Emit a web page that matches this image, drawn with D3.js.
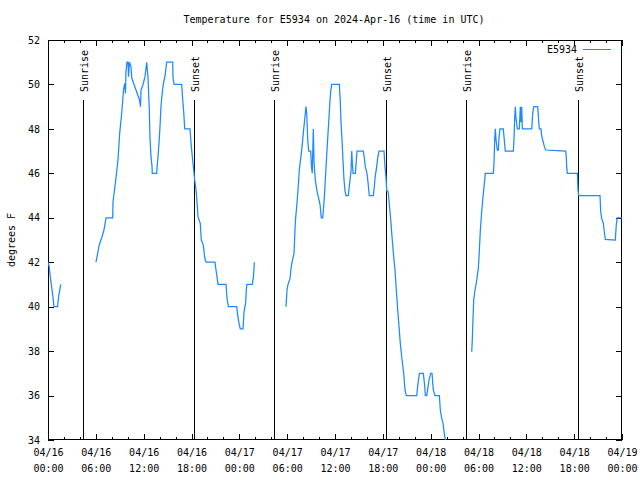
<!DOCTYPE html>
<html><head><meta charset="utf-8">
<script src="https://cdn.jsdelivr.net/npm/d3@7"></script>
<style>
html,body{margin:0;padding:0;background:#fff;}
text{font-family:"DejaVu Sans Mono",monospace;font-size:10px;fill:#000;}
</style></head>
<body><svg id="c" width="640" height="480"></svg>
<script>
// ---- data (hours after 2024-04-16 00:00 UTC, temperature °F; null = gap) ----
const title = "Temperature for E5934 on 2024-Apr-16 (time in UTC)";
const seriesName = "E5934";
const yLabel = "degrees F";
const hoursUTC = [
 0,0.15,0.3,0.45,0.6,0.75,1.2,1.35,1.6, 3.5,
 6.02,6.44,6.74,7.02,7.28,8.12,8.15,8.53,8.78,8.99,9.16,9.28,9.47,9.62,9.72,9.78,9.91,10.04,10.10,10.22,10.41,10.50,10.79,11.04,11.48,11.60,11.67,11.92,12.17,12.38,12.54,12.71,12.79,12.92,13.05,13.08,13.64,13.67,13.80,13.92,14.05,14.17,14.34,14.46,14.68,14.89,15.64,15.68,15.81,16.77,16.90,17.02,17.15,17.81,17.94,18.06,18.23,18.40,18.57,18.69,18.82,19.10,19.23,19.48,19.66,19.82,20.95,21.07,21.20,21.32,22.33,22.45,22.62,23.67,23.80,23.96,24.12,24.46,24.59,24.80,24.87,24.96,25.63,25.75,25.84,25.88, 27.5,
 29.85,29.98,30.11,30.36,30.48,30.61,30.86,31.02,31.23,31.36,31.52,31.74,31.90,32.02,32.15,32.36,32.45,32.58,32.70,32.95,33.05,33.15,33.28,33.37,33.53,33.74,33.87,34.12,34.28,34.46,34.58,34.71,34.83,34.96,35.09,35.21,35.34,35.46,35.59,36.54,36.67,36.75,36.88,37.00,37.13,37.26,37.38,37.67,37.76,37.88,38.01,38.10,38.17,38.26,38.55,38.76,39.55,39.68,39.80,40.01,40.14,40.30,40.81,40.93,41.06,41.23,41.36,41.52,42.15,42.27,42.40,42.49,42.65,42.77,42.99,43.15,43.36,43.53,43.69,43.87,44.03,44.19,44.41,44.62,44.78,44.95,46.25,46.41,46.58,47.08,47.26,47.33,47.51,47.67,47.79,48.01,48.17,48.33,48.54,49.09,49.21,49.39,49.55,49.71,49.93,50.05, 51.5,
 53.15,53.22,53.31,53.40,53.56,53.69,53.81,53.98,54.10,54.23,54.40,54.53,54.65,54.78,54.85,55.86,55.95,56.03,56.11,56.20,56.36,56.49,56.57,56.70,57.11,57.36,58.37,58.45,58.54,58.62,58.70,58.87,59.12,59.25,59.33,59.42,59.50,60.68,60.80,60.93,61.43,61.56,61.63,61.84,61.92,62.05,62.13,62.26,62.43,64.94,65.01,65.06,65.14,66.40,66.48,66.57,69.24,69.33,69.45,69.66,69.78,69.91,71.16,71.28,71.41,72.0
];
const tempsF = [
 42,41.8,41.3,40.9,40.5,40,40,40.5,41, null,
 42.0,42.8,43.1,43.45,44.0,44.0,44.7,45.8,46.6,47.8,48.4,48.85,49.75,50.05,49.6,50.6,51.0,51.0,50.35,51.0,50.8,50.3,50.0,49.75,49.3,49.0,49.75,50.0,50.35,51.0,50.35,48.85,47.6,46.75,46.3,46.0,46.0,46.25,46.75,47.35,48.1,49.0,49.67,50.0,50.4,51.0,51.0,50.3,50.0,50.0,49.3,48.77,48.0,48.0,47.36,46.9,46.3,45.7,45.25,44.7,44.05,43.75,43.0,42.77,42.2,42.0,42.0,41.65,41.35,41.0,41.0,40.4,40.0,40.0,39.6,39.25,39.0,39.0,39.77,40.2,40.75,41.0,41.0,41.27,41.7,42.0, null,
 40.0,40.75,41.0,41.27,41.7,42.0,42.4,43.8,44.65,45.25,46.15,46.8,47.3,47.8,48.25,49.0,48.7,47.5,47.0,47.0,46.3,46.0,48.0,46.5,45.7,45.2,45.0,44.6,44.0,44.0,44.5,45.2,46.0,46.8,47.6,48.3,49.1,49.7,50.0,50.0,49.2,48.3,47.5,46.6,45.7,45.2,45.0,45.0,45.3,45.7,46.1,47.0,46.5,46.0,46.0,47.0,47.0,46.7,46.3,46.0,45.6,45.0,45.0,45.4,45.9,46.3,46.7,47.0,47.0,46.3,45.8,45.2,45.2,44.8,43.9,43.15,42.25,41.65,40.75,39.85,39.1,38.35,37.6,37.0,36.25,36.0,36.0,36.55,37.0,37.0,36.4,36.0,36.0,36.4,36.7,37.0,37.0,36.25,36.0,36.0,35.35,34.97,34.75,34.3,33.8,33.5, null,
 37.97,38.5,39.47,40.3,40.75,41.0,41.27,41.73,42.47,43.45,44.27,44.8,45.25,45.7,46.0,46.0,46.5,47.5,48.0,47.5,47.05,47.05,47.6,48.0,48.0,47.0,47.0,47.5,48.5,49.0,48.5,48.0,48.0,49.0,48.3,49.0,48.0,48.0,48.7,49.0,49.0,48.3,48.0,48.0,47.7,47.5,47.4,47.2,47.05,47.0,46.75,46.3,46.0,46.0,45.25,45.0,45.0,44.27,43.97,43.75,43.37,43.03,43.0,43.67,44.0,44.0
];
const sunriseHours = [4.43, 28.39, 52.43];
const sunsetHours = [18.31, 42.44, 66.52];
const yTicks = [34,36,38,40,42,44,46,48,50,52];
const yDomain = [34, 52];
const xDomainHours = [0, 72];

// ---- drawing ----
const base = Date.UTC(2024, 3, 16, 0, 0);
const toDate = h => new Date(base + h * 3600e3);
const data = hoursUTC.map((h, i) => ({date: toDate(h), t: tempsF[i]}));

const L = 48, R = 622, T = 40, B = 440;
const svg = d3.select("#c");
const x = d3.scaleUtc().domain(xDomainHours.map(toDate)).range([L, R]);
const y = d3.scaleLinear().domain(yDomain).range([B, T]);

svg.append("rect").attr("width", 640).attr("height", 480).attr("fill", "#fff");

svg.append("defs").append("clipPath").attr("id", "clip")
  .append("rect").attr("x", L).attr("y", T).attr("width", R - L).attr("height", B - T);

function styleAxis(g) {
  g.select(".domain").remove();
  g.selectAll(".tick line").attr("stroke", "#000").attr("shape-rendering", "crispEdges");
  g.selectAll("text").attr("font-family", "DejaVu Sans Mono, monospace").attr("font-size", 10).attr("fill", "#000");
}

// minor x ticks (2h), bottom and top
svg.append("g").attr("transform", `translate(0,${B})`)
  .call(d3.axisBottom(x).ticks(d3.utcHour.every(2)).tickSize(-3).tickFormat(""))
  .call(styleAxis);
svg.append("g").attr("transform", `translate(0,${T})`)
  .call(d3.axisTop(x).ticks(d3.utcHour.every(2)).tickSize(-3).tickFormat(""))
  .call(styleAxis);
// major x ticks (6h)
const fmtD = d3.utcFormat("%m/%d"), fmtT = d3.utcFormat("%H:%M");
const xb = svg.append("g").attr("transform", `translate(0,${B})`)
  .call(d3.axisBottom(x).ticks(d3.utcHour.every(6)).tickSize(-6).tickPadding(8).tickFormat(""))
  .call(styleAxis);
xb.selectAll(".tick text").each(function(d) {
  const t = d3.select(this).attr("dy", null).attr("y", 0);
  t.append("tspan").attr("x", 0).attr("y", 16).text(fmtD(d));
  t.append("tspan").attr("x", 0).attr("y", 32).text(fmtT(d));
});
svg.append("g").attr("transform", `translate(0,${T})`)
  .call(d3.axisTop(x).ticks(d3.utcHour.every(6)).tickSize(-6).tickFormat(""))
  .call(styleAxis);
// y ticks
svg.append("g").attr("transform", `translate(${L},0)`)
  .call(d3.axisLeft(y).tickValues(yTicks).tickSize(-6).tickPadding(8).tickFormat(d3.format("d")))
  .call(styleAxis);
svg.append("g").attr("transform", `translate(${R},0)`)
  .call(d3.axisRight(y).tickValues(yTicks).tickSize(-6).tickFormat(""))
  .call(styleAxis);

// border
svg.append("rect").attr("x", L + 0.5).attr("y", T + 0.5).attr("width", R - L - 1).attr("height", B - T - 1)
  .attr("fill", "none").attr("stroke", "#000").attr("shape-rendering", "crispEdges");

// sunrise/sunset markers
const marks = sunriseHours.map(h => ({h, label: "Sunrise"}))
  .concat(sunsetHours.map(h => ({h, label: "Sunset"})));
const mg = svg.append("g");
marks.forEach(m => {
  const px = Math.round(x(toDate(m.h))) + 0.5;
  mg.append("line").attr("x1", px).attr("x2", px).attr("y1", 100).attr("y2", B)
    .attr("stroke", "#000").attr("stroke-width", 1.3).attr("shape-rendering", "crispEdges");
  mg.append("text").attr("transform", `translate(${px + 4},92) rotate(-90)`)
    .attr("text-anchor", "start").text(m.label);
});

// data line
svg.append("path").datum(data)
  .attr("clip-path", "url(#clip)")
  .attr("fill", "none").attr("stroke", "#1e88ff").attr("stroke-width", 1.25)
  .attr("d", d3.line().defined(d => d.t != null).x(d => x(d.date)).y(d => y(d.t)));

// legend
svg.append("text").attr("x", 577).attr("y", 53).attr("text-anchor", "end").text(seriesName);
svg.append("line").attr("x1", 583).attr("x2", 611).attr("y1", 49.5).attr("y2", 49.5)
  .attr("stroke", "#1e88ff").attr("stroke-width", 1.2).attr("shape-rendering", "crispEdges");

// title and y label
svg.append("text").attr("x", 334).attr("y", 23).attr("text-anchor", "middle").text(title);
svg.append("text").attr("transform", "translate(15,240) rotate(-90)").attr("text-anchor", "middle").text(yLabel);
</script></body></html>
